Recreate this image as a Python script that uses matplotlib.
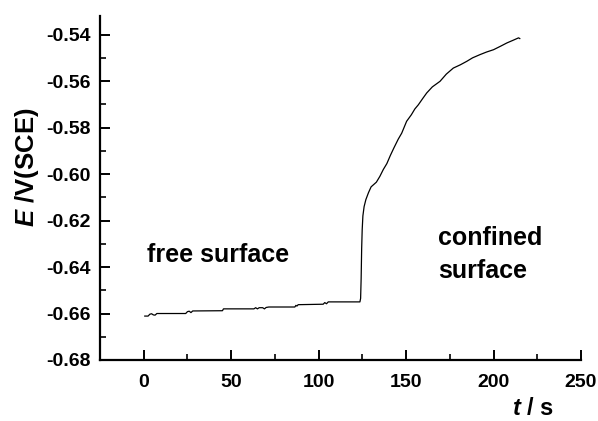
import matplotlib
matplotlib.use("Agg")
import matplotlib.pyplot as plt
from matplotlib.ticker import MultipleLocator, FormatStrFormatter

# potencial frente al tiempo
t = [0.6, 2.5, 3.5, 4.5, 5.5, 6.5, 7.5, 24.0, 25.0, 26.0, 27.0, 28.0,
     45.0, 45.6, 63.0, 64.0, 65.0, 66.0, 68.0, 69.0, 70.0, 71.5, 86.4,
     87.0, 87.6, 88.3, 102.6, 103.5, 104.5, 105.5, 123.6, 124.0, 124.3,
     124.6, 124.9, 125.3, 126.0, 127.0, 128.5, 130.0, 131.5, 133.0,
     135.0, 137.0, 139.0, 141.0, 143.0, 145.5, 147.5, 150.3, 153.0,
     155.0, 157.0, 159.5, 161.8, 165.0, 169.4, 173.0, 177.0, 181.0,
     184.7, 188.0, 192.3, 196.0, 200.0, 204.0, 207.6, 211.0, 214.3, 215.0]
E = [-0.6611, -0.6611, -0.6603, -0.6601, -0.6606, -0.6607, -0.6600,
     -0.6600, -0.6592, -0.6590, -0.6596, -0.6589, -0.6588, -0.6580,
     -0.6580, -0.6575, -0.6580, -0.6575, -0.6575, -0.6580, -0.6574,
     -0.6572, -0.6572, -0.6565, -0.6568, -0.6562, -0.6560, -0.6553,
     -0.6558, -0.6550, -0.6550, -0.6535, -0.6450, -0.6320, -0.6240,
     -0.6180, -0.6140, -0.6110, -0.6080, -0.6055, -0.6045, -0.6035,
     -0.6010, -0.5980, -0.5955, -0.5920, -0.5888, -0.5850, -0.5824,
     -0.5773, -0.5745, -0.5720, -0.5702, -0.5675, -0.5651, -0.5625,
     -0.5601, -0.5570, -0.5544, -0.5530, -0.5515, -0.5500, -0.5486,
     -0.5475, -0.5465, -0.5450, -0.5436, -0.5425, -0.5414, -0.5417]

plt.rcParams['font.family'] = 'Liberation Sans'
plt.rcParams['font.weight'] = 'bold'
plt.rcParams['axes.unicode_minus'] = False
plt.rcParams['mathtext.fontset'] = 'custom'
plt.rcParams['mathtext.it'] = 'Liberation Sans:italic:bold'
plt.rcParams['mathtext.rm'] = 'Liberation Sans:bold'

fig = plt.figure(figsize=(5.98, 4.21), dpi=100)
ax = fig.add_axes([100 / 598, 1 - 360 / 421, 481 / 598, 344 / 421])

ax.plot(t, E, color='black', linewidth=0.9)

ax.set_xlim(-25, 250)
ax.set_ylim(-0.68, -0.532)

for s in ['top', 'right']:
    ax.spines[s].set_visible(False)
for s in ['left', 'bottom']:
    ax.spines[s].set_linewidth(1.6)

ax.xaxis.set_major_locator(MultipleLocator(50))
ax.xaxis.set_minor_locator(MultipleLocator(25))
ax.yaxis.set_major_locator(MultipleLocator(0.02))
ax.yaxis.set_minor_locator(MultipleLocator(0.01))
ax.yaxis.set_major_formatter(FormatStrFormatter('%.2f'))

ax.tick_params(which='major', direction='in', length=7, width=1.4,
               labelsize=14)
ax.tick_params(which='minor', direction='in', length=4, width=1.2)
ax.tick_params(axis='y', which='major', pad=7)
ax.tick_params(axis='x', which='major', pad=10)

ax.text(1.9, -0.6379, 'free surface', fontsize=18, va='baseline', ha='left')
ax.text(168.5, -0.6305, 'confined', fontsize=18, va='baseline', ha='left')
ax.text(168.5, -0.6448, 'surface', fontsize=18, va='baseline', ha='left')

fig.text(27 / 598, 1 - 167 / 421, '$E$ /V(SCE)', fontsize=18.5,
         rotation=90, ha='center', va='center')
fig.text(554 / 598, 1 - 415 / 421, '$t$ / s', fontsize=17,
         ha='right', va='baseline')

fig.savefig('out.png', dpi=100)
